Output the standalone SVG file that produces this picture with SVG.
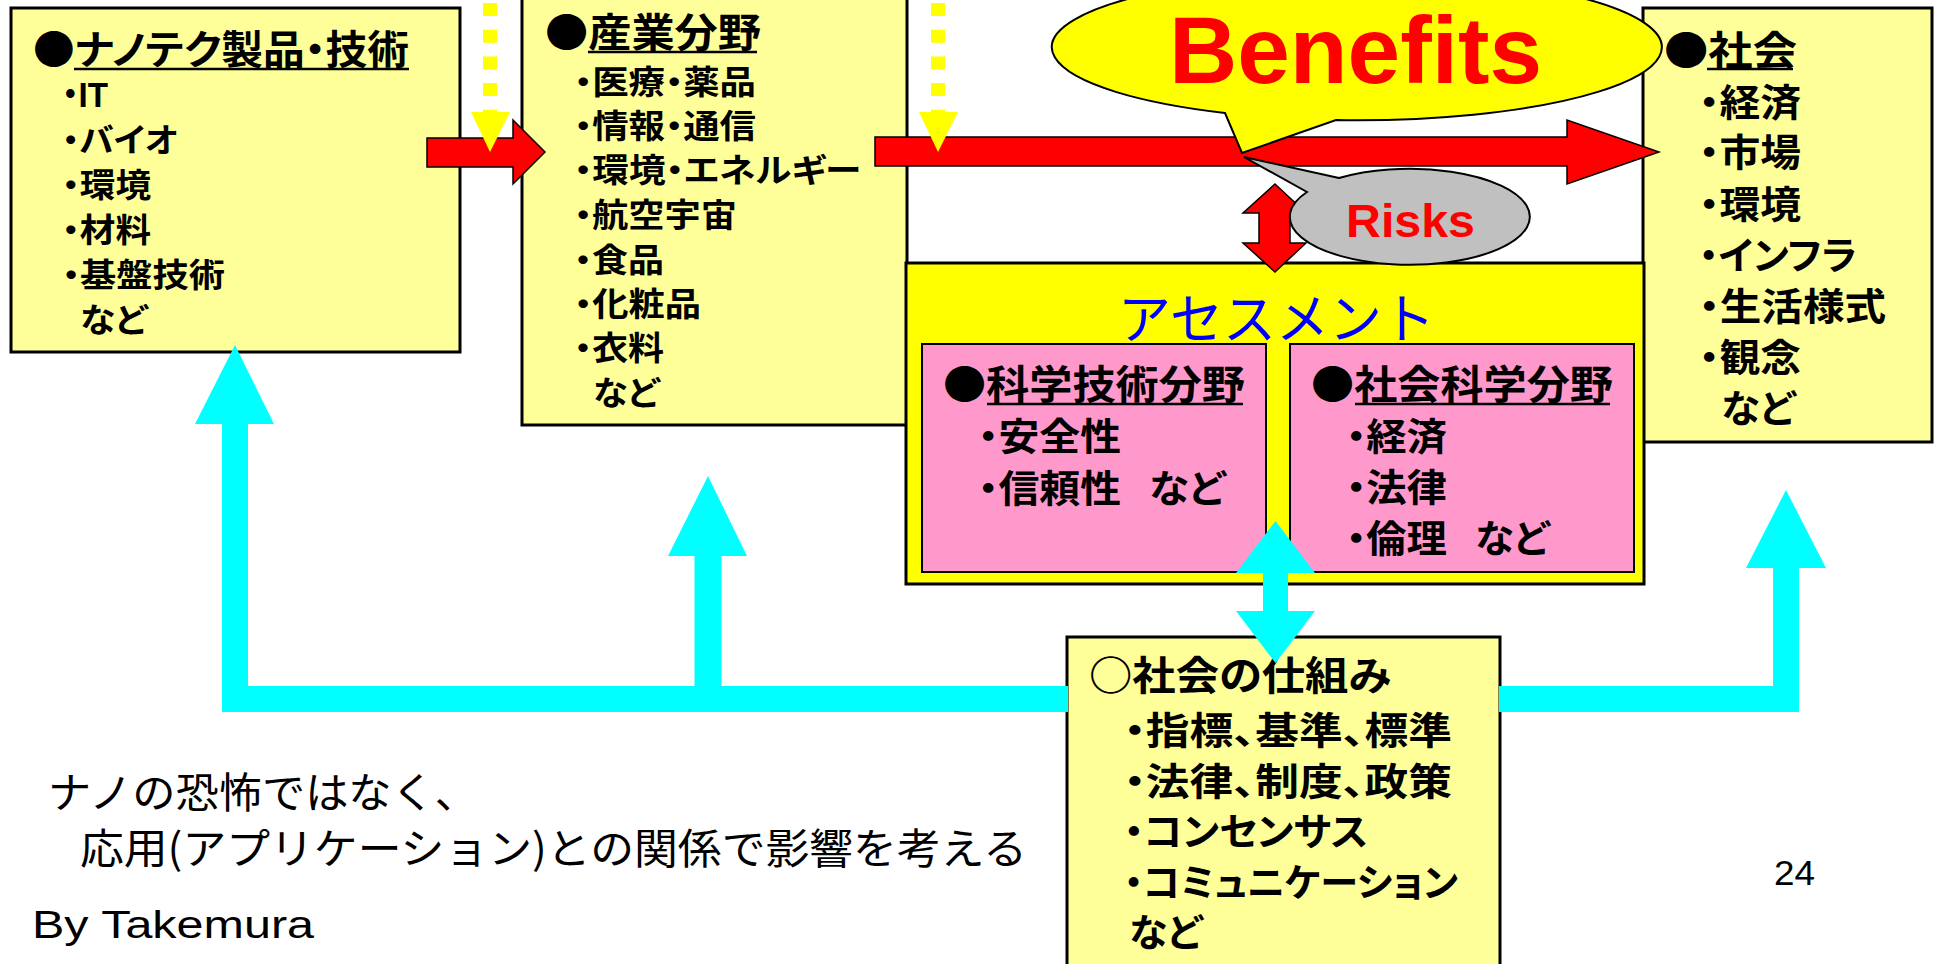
<svg xmlns="http://www.w3.org/2000/svg" width="1934" height="964" viewBox="0 0 1934 964">
<style>
.box{fill:#FFFF99;stroke:#000;stroke-width:3}
.pink{fill:#FF99CC;stroke:#000;stroke-width:2}
.t{font-family:"Noto Sans CJK JP",sans-serif;font-weight:bold;fill:#000;font-feature-settings:"palt"}
.n{font-family:"Noto Sans CJK JP",sans-serif;font-weight:normal;fill:#000}
.lat{font-family:"Liberation Sans","Noto Sans CJK JP",sans-serif}
.h{font-size:40px}
.i{font-size:33px}
.j{font-size:38px}
.ul{stroke:#000;stroke-width:2.5}
.red{fill:#FF0000;stroke:#000;stroke-width:1.5}
.cy{fill:#00FFFF}
.cyl{fill:none;stroke:#00FFFF;stroke-width:26;stroke-linejoin:miter}
.yd{stroke:#FFFF00;stroke-width:14;stroke-dasharray:13 13.7}
.yh{fill:#FFFF00}
</style>
<rect width="1934" height="964" fill="#FFFFFF"/>

<g id="node-nanotech">
<rect class="box" x="11" y="8" width="449" height="344"/>
<text class="t h" x="33" y="64" textLength="376" lengthAdjust="spacingAndGlyphs">●ナノテク製品・技術</text>
<line class="ul" x1="74" y1="69" x2="409" y2="69"/>
<g class="t i">
<text class="lat" x="62" y="107" textLength="46" lengthAdjust="spacingAndGlyphs" style="font-size:35px">・IT</text>
<text x="62" y="152" textLength="116" lengthAdjust="spacingAndGlyphs">・バイオ</text>
<text x="62" y="197" textLength="89" lengthAdjust="spacingAndGlyphs">・環境</text>
<text x="62" y="242" textLength="89" lengthAdjust="spacingAndGlyphs">・材料</text>
<text x="62" y="287" textLength="163" lengthAdjust="spacingAndGlyphs">・基盤技術</text>
<text x="80" y="332" textLength="67" lengthAdjust="spacingAndGlyphs">など</text>
</g>
</g>

<g id="node-industry">
<rect class="box" x="522" y="-4" width="385" height="429"/>
<text class="t h" x="545" y="47" textLength="216" lengthAdjust="spacingAndGlyphs">●産業分野</text>
<line class="ul" x1="588" y1="52" x2="757" y2="52"/>
<g class="t i">
<text x="574" y="94" textLength="182" lengthAdjust="spacingAndGlyphs">・医療・薬品</text>
<text x="574" y="138" textLength="182" lengthAdjust="spacingAndGlyphs">・情報・通信</text>
<text x="574" y="182" textLength="287" lengthAdjust="spacingAndGlyphs">・環境・エネルギー</text>
<text x="574" y="227" textLength="163" lengthAdjust="spacingAndGlyphs">・航空宇宙</text>
<text x="574" y="272" textLength="90" lengthAdjust="spacingAndGlyphs">・食品</text>
<text x="574" y="316" textLength="127" lengthAdjust="spacingAndGlyphs">・化粧品</text>
<text x="574" y="360" textLength="90" lengthAdjust="spacingAndGlyphs">・衣料</text>
<text x="593" y="405" textLength="66" lengthAdjust="spacingAndGlyphs">など</text>
</g>
</g>

<g id="node-society">
<rect class="box" x="1643" y="8" width="289" height="434"/>
<text class="t h" x="1664" y="65" textLength="133" lengthAdjust="spacingAndGlyphs">●社会</text>
<line class="ul" x1="1707" y1="69" x2="1793" y2="69"/>
<g class="t j">
<text x="1699" y="116" textLength="102" lengthAdjust="spacingAndGlyphs">・経済</text>
<text x="1699" y="166" textLength="102" lengthAdjust="spacingAndGlyphs">・市場</text>
<text x="1699" y="218" textLength="102" lengthAdjust="spacingAndGlyphs">・環境</text>
<text x="1699" y="269" textLength="158" lengthAdjust="spacingAndGlyphs">・インフラ</text>
<text x="1699" y="320" textLength="187" lengthAdjust="spacingAndGlyphs">・生活様式</text>
<text x="1699" y="371" textLength="102" lengthAdjust="spacingAndGlyphs">・観念</text>
<text x="1721" y="422" textLength="74" lengthAdjust="spacingAndGlyphs">など</text>
</g>
</g>

<g id="node-assessment">
<rect x="906" y="263" width="738" height="321" fill="#FFFF00" stroke="#000" stroke-width="3"/>
<text x="1118" y="339" font-family="Noto Sans CJK JP, sans-serif" font-size="54" fill="#0000FF" textLength="317" lengthAdjust="spacingAndGlyphs">アセスメント</text>
<g id="node-science">
<rect class="pink" x="922" y="344" width="344" height="228"/>
<text class="t h" x="943" y="399" textLength="302" lengthAdjust="spacingAndGlyphs">●科学技術分野</text>
<line class="ul" x1="987" y1="404" x2="1243" y2="404"/>
<g class="t j">
<text x="978" y="450" textLength="143" lengthAdjust="spacingAndGlyphs">・安全性</text>
<text x="978" y="502" textLength="143" lengthAdjust="spacingAndGlyphs">・信頼性</text><text x="1149" y="502" textLength="76" lengthAdjust="spacingAndGlyphs">など</text>
</g>
</g>
<g id="node-socialscience">
<rect class="pink" x="1290" y="344" width="344" height="228"/>
<text class="t h" x="1311" y="399" textLength="302" lengthAdjust="spacingAndGlyphs">●社会科学分野</text>
<line class="ul" x1="1355" y1="404" x2="1610" y2="404"/>
<g class="t j">
<text x="1346" y="450" textLength="101" lengthAdjust="spacingAndGlyphs">・経済</text>
<text x="1346" y="501" textLength="101" lengthAdjust="spacingAndGlyphs">・法律</text>
<text x="1346" y="552" textLength="101" lengthAdjust="spacingAndGlyphs">・倫理</text><text x="1475" y="552" textLength="74" lengthAdjust="spacingAndGlyphs">など</text>
</g>
</g>
</g>

<g id="node-mechanism">
<rect class="box" x="1067" y="637" width="433" height="340"/>
<text class="t h" x="1089" y="690" textLength="302" lengthAdjust="spacingAndGlyphs">○社会の仕組み</text>
<g class="t j">
<text x="1124" y="744" textLength="328" lengthAdjust="spacingAndGlyphs">・指標、基準、標準</text>
<text x="1124" y="795" textLength="328" lengthAdjust="spacingAndGlyphs">・法律、制度、政策</text>
<text x="1124" y="845" textLength="244" lengthAdjust="spacingAndGlyphs">・コンセンサス</text>
<text x="1124" y="896" textLength="334" lengthAdjust="spacingAndGlyphs">・コミュニケーション</text>
<text x="1129" y="946" textLength="73" lengthAdjust="spacingAndGlyphs">など</text>
</g>
</g>

<g id="connectors">
<polyline class="cyl" points="235,424 235,699 1068,699"/>
<polygon class="cy" points="195,424 274,424 235,345"/>
<rect class="cy" x="694.5" y="555" width="27" height="132"/>
<polygon class="cy" points="668,556 747,556 708,476"/>
<polyline class="cyl" points="1499,699 1786,699 1786,567"/>
<polygon class="cy" points="1746,568 1826,568 1786,490"/>
<rect class="cy" x="1263" y="572" width="25" height="40"/>
<polygon class="cy" points="1236,573 1315,573 1275.5,521"/>
<polygon class="cy" points="1236,611 1315,611 1275.5,663"/>
<polygon class="red" points="427,138 513,138 513,120 545,152 513,184 513,167 427,167"/>
<polygon class="red" points="875,137 1567,137 1567,120 1659,152 1567,184 1567,166 875,166"/>
<polygon class="red" points="1275,184 1306,213 1290,213 1290,243 1306,243 1275,272 1243,243 1259,243 1259,213 1243,213"/>
<line class="yd" x1="490" y1="3" x2="490" y2="113"/>
<polygon class="yh" points="471,112 510,112 490,152"/>
<line class="yd" x1="938" y1="3" x2="938" y2="113"/>
<polygon class="yh" points="919,112 958,112 938,152"/>
</g>

<g id="node-benefits">
<path d="M1225,113 L1242,153 L1336,120 A305,73 0 1 0 1225,113 Z" fill="#FFFF00" stroke="#000" stroke-width="2"/>
<text x="1169" y="83" font-family="Liberation Sans, Arial, sans-serif" font-weight="bold" font-size="95" fill="#FF0000" textLength="373" lengthAdjust="spacingAndGlyphs">Benefits</text>
</g>

<g id="node-risks">
<path d="M1339,178 L1244,157 L1307,192 A120,48 0 1 0 1339,178 Z" fill="#C0C0C0" stroke="#000" stroke-width="2"/>
<text x="1346" y="237" font-family="Liberation Sans, Arial, sans-serif" font-weight="bold" font-size="47" fill="#FF0000" textLength="129" lengthAdjust="spacingAndGlyphs">Risks</text>
</g>

<g id="notes">
<text class="n" x="48" y="808" font-size="42" textLength="430" lengthAdjust="spacingAndGlyphs">ナノの恐怖ではなく、</text>
<text class="n" x="80" y="864" font-size="42" textLength="947" lengthAdjust="spacingAndGlyphs">応用(アプリケーション)との関係で影響を考える</text>
<text x="32" y="938" font-family="Liberation Sans, Arial, sans-serif" font-size="38" fill="#000" textLength="282" lengthAdjust="spacingAndGlyphs">By Takemura</text>
<text x="1774" y="885" font-family="Liberation Sans, Arial, sans-serif" font-size="35" fill="#000" textLength="41" lengthAdjust="spacingAndGlyphs">24</text>
</g>
</svg>
